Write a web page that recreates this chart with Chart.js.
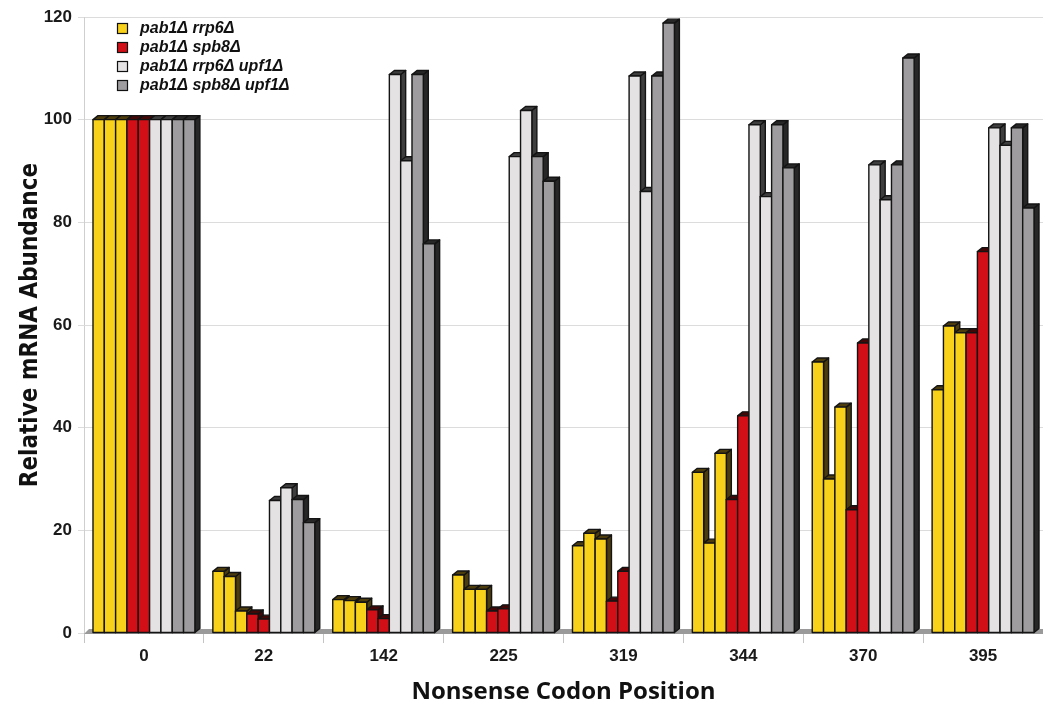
<!DOCTYPE html>
<html>
<head>
<meta charset="utf-8">
<script src="https://cdn.jsdelivr.net/npm/chart.js@4.4.0/dist/chart.umd.min.js"></script>
<style>
  html, body { margin: 0; padding: 0; background: #fff; }
  #wrap { width: 1043px; height: 708px; }
</style>
</head>
<body>
<div id="wrap"><canvas id="chart"></canvas></div>
<script>
// nonsense codon positions (categories)
const positions = ['0', '22', '142', '225', '319', '344', '370', '395'];

// replicates for each strain
const rrp6A = [100, 12, 6.5, 11.3, 17, 31.3, 52.8, 47.4];
const rrp6B = [100, 11, 6.3, 8.5, 19.4, 17.5, 30, 59.8];
const rrp6C = [100, 4.3, 6, 8.5, 18.3, 35, 44, 58.5];
const spb8A = [100, 3.7, 4.5, 4.3, 6.2, 26, 24, 58.5];
const spb8B = [100, 2.7, 2.8, 4.7, 12, 42.3, 56.5, 74.3];
const rrp6Upf1A = [100, 25.8, 108.8, 92.8, 108.5, 99, 91.2, 98.4];
const rrp6Upf1B = [100, 28.3, 92, 101.8, 86, 85, 84.4, 95];
const spb8Upf1A = [100, 26, 108.8, 92.8, 108.5, 99, 91.2, 98.4];
const spb8Upf1B = [100, 21.5, 75.8, 88, 118.8, 90.6, 112, 82.8];

const yTicks = [0, 20, 40, 60, 80, 100, 120];
const strainNames = ['pab1Δ rrp6Δ', 'pab1Δ spb8Δ', 'pab1Δ rrp6Δ upf1Δ', 'pab1Δ spb8Δ upf1Δ'];

const fills = ['#F8D11B', '#D20F17', '#E4E2E3', '#9E9C9E'];
const sides = ['#4d3c0c', '#420808', '#3e3e3e', '#272727'];

const series = [
  { data: rrp6A, strain: 0 }, { data: rrp6B, strain: 0 }, { data: rrp6C, strain: 0 },
  { data: spb8A, strain: 1 }, { data: spb8B, strain: 1 },
  { data: rrp6Upf1A, strain: 2 }, { data: rrp6Upf1B, strain: 2 },
  { data: spb8Upf1A, strain: 3 }, { data: spb8Upf1B, strain: 3 }
];

const DX = 5, DY = 4;

/* floor strip under the bars */
const floor = {
  id: 'floor',
  beforeDatasetsDraw(chart) {
    const { ctx, chartArea: a } = chart;
    ctx.save();
    ctx.fillStyle = '#9a9a9a';
    ctx.beginPath();
    ctx.moveTo(a.left, a.bottom + 1);
    ctx.lineTo(a.left + DX, a.bottom - DY);
    ctx.lineTo(a.right, a.bottom - DY);
    ctx.lineTo(a.right, a.bottom + 1);
    ctx.closePath();
    ctx.fill();
    ctx.restore();
  }
};

/* redraw the bars left to right with a 3d side and top */
const bars3d = {
  id: 'bars3d',
  afterDatasetsDraw(chart) {
    const ctx = chart.ctx;
    ctx.save();
    ctx.lineWidth = 1.4;
    ctx.strokeStyle = '#141414';
    ctx.lineJoin = 'round';
    positions.forEach((p, j) => {
      series.forEach((s, i) => {
        const bar = chart.getDatasetMeta(i).data[j];
        const { x, y, base, width } = bar.getProps(['x', 'y', 'base', 'width'], true);
        const l = x - width / 2, r = x + width / 2;
        ctx.fillStyle = sides[s.strain];
        ctx.beginPath();
        ctx.moveTo(r, y);
        ctx.lineTo(r + DX, y - DY);
        ctx.lineTo(r + DX, base - DY);
        ctx.lineTo(r, base);
        ctx.closePath();
        ctx.fill();
        ctx.stroke();
        ctx.beginPath();
        ctx.moveTo(l, y);
        ctx.lineTo(l + DX, y - DY);
        ctx.lineTo(r + DX, y - DY);
        ctx.lineTo(r, y);
        ctx.closePath();
        ctx.fill();
        ctx.stroke();
        ctx.fillStyle = fills[s.strain];
        ctx.fillRect(l, y, width, base - y);
        ctx.strokeRect(l, y, width, base - y);
      });
    });
    ctx.restore();
  }
};

/* legend in the top left corner of the plot */
const strainLegend = {
  id: 'strainLegend',
  afterDraw(chart) {
    const ctx = chart.ctx;
    ctx.save();
    ctx.textBaseline = 'middle';
    ctx.font = 'italic bold 16px "Liberation Sans", Arial, sans-serif';
    strainNames.forEach((name, i) => {
      const cy = 28 + i * 19;
      ctx.fillStyle = fills[i];
      ctx.fillRect(117, cy - 5, 11, 11);
      ctx.strokeStyle = '#111';
      ctx.lineWidth = 1.2;
      ctx.strokeRect(117.5, cy - 4.5, 10, 10);
      ctx.fillStyle = '#111';
      ctx.fillText(name, 140, cy + 1);
    });
    ctx.restore();
  }
};

new Chart(document.getElementById('chart'), {
  type: 'bar',
  data: {
    labels: positions,
    datasets: series.map(s => ({
      label: strainNames[s.strain],
      data: s.data,
      backgroundColor: fills[s.strain],
      borderColor: '#141414',
      borderWidth: 1.4,
      categoryPercentage: 0.85,
      barPercentage: 1.0
    }))
  },
  options: {
    responsive: true,
    maintainAspectRatio: false,
    animation: false,
    layout: { padding: { top: 17, right: 0, left: 0, bottom: 0 } },
    plugins: { legend: { display: false }, tooltip: { enabled: false } },
    scales: {
      x: {
        grid: { offset: true, drawOnChartArea: false, tickLength: 10, color: '#c4c4c4' },
        border: { color: '#c4c4c4' },
        ticks: {
          color: '#1a1a1a',
          padding: 3,
          font: { family: '"Liberation Sans", Arial, sans-serif', size: 17, weight: 'bold' }
        },
        title: {
          display: true,
          text: 'Nonsense Codon Position',
          color: '#111',
          padding: { top: 0, bottom: 1 },
          font: { family: '"Open Sans", sans-serif', size: 24, weight: 'bold' }
        },
        afterFit(scale) { scale.height = 75; }
      },
      y: {
        min: 0,
        max: 120,
        afterBuildTicks(scale) { scale.ticks = yTicks.map(v => ({ value: v })); },
        grid: { color: '#dcdcdc', tickLength: 6 },
        border: { color: '#cfcfcf' },
        ticks: {
          color: '#1a1a1a',
          padding: 6,
          font: { family: '"Liberation Sans", Arial, sans-serif', size: 17, weight: 'bold' }
        },
        title: {
          display: true,
          text: 'Relative mRNA Abundance',
          color: '#111',
          padding: { top: 16, bottom: 0 },
          font: { family: '"Liberation Sans Narrow", "DejaVu Sans Condensed", sans-serif', size: 24, weight: 'bold' }
        },
        afterFit(scale) { scale.width = 84; }
      }
    }
  },
  plugins: [floor, bars3d, strainLegend]
});
</script>
</body>
</html>
